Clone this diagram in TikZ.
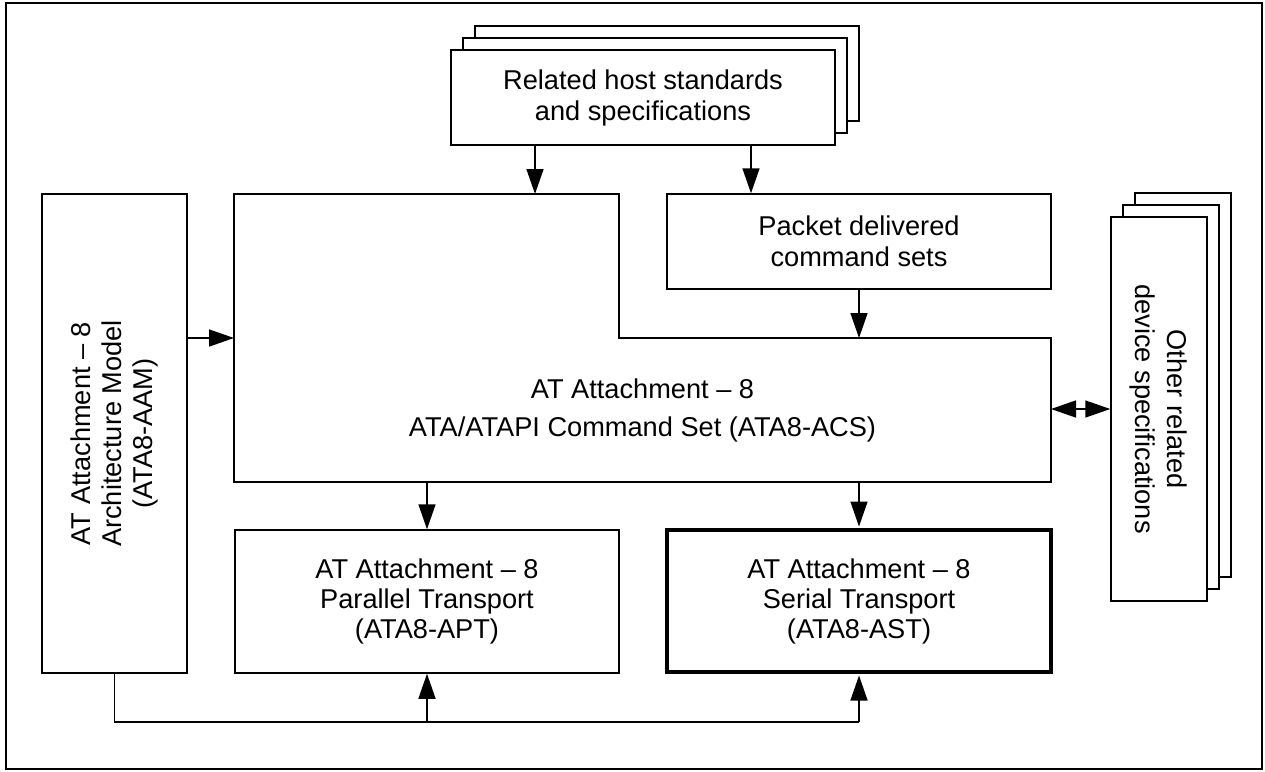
\documentclass[tikz,border=0pt]{standalone}
\usepackage{fontspec}
\setmainfont{Liberation Sans}
\usetikzlibrary{arrows.meta,calc}
\newcommand{\txtfont}{\fontsize{27.2}{31}\selectfont}
\begin{document}
\begin{tikzpicture}[x=1pt,y=-1pt,
  box/.style={draw, line width=1.5pt, fill=white, inner sep=0pt, align=center, font=\txtfont},
  plain/.style={inner sep=0pt, align=center, font=\txtfont},
  arr/.style={-{Triangle[length=25pt,width=17pt]}, line width=1.5pt},
  dblarr/.style={{Triangle[length=25pt,width=17pt]}-{Triangle[length=25pt,width=17pt]}, line width=1.5pt},
  line/.style={line width=1.5pt}]
\useasboundingbox (0,0) rectangle (1265,771);
\draw[line width=2pt] (6,3) rectangle (1262,769);

% related host standards (stacked)
\node[box, minimum width=384pt, minimum height=95pt] (relB) at (667,73.5) {};
\node[box, minimum width=384pt, minimum height=95pt] (relM) at (655,85.5) {};
\node[box, minimum width=384pt, minimum height=95pt] (rel) at (643,97.5) {Related host standards\\and specifications};

% packet delivered
\node[box, minimum width=384pt, minimum height=95pt] (pkt) at (859,241.5) {Packet delivered\\command sets};

% ACS outline
\coordinate (acsNW) at (234,194);
\coordinate (acsStep) at (619,338);
\coordinate (acsSE) at (1051,482);
\coordinate (acsSW) at (234,482);
\draw[line] (acsNW) -- (acsNW -| acsStep) -- (acsStep) -- (acsStep -| acsSE) -- (acsSE) -- (acsSW) -- cycle;
\node[plain, font=\fontsize{27.2}{38}\selectfont] (acs) at (642.5,410) {AT Attachment – 8\\ATA/ATAPI Command Set (ATA8-ACS)};

% AAM
\node[box, minimum width=145pt, minimum height=479pt] (aam) at (114.5,433.5) {};
\node[plain, rotate=90] (aamtxt) at (aam.center) {AT Attachment – 8\\Architecture Model\\(ATA8-AAM)};

% APT, AST
\node[box, minimum width=384pt, minimum height=143pt, font=\fontsize{27.2}{30}\selectfont] (apt) at (427,601.5) {AT Attachment – 8\\Parallel Transport\\(ATA8-APT)};
\node[box, line width=4pt, minimum width=384pt, minimum height=142pt, font=\fontsize{27.2}{30}\selectfont] (ast) at (859,601) {AT Attachment – 8\\Serial Transport\\(ATA8-AST)};

% other related device specs (stacked)
\node[box, minimum width=96pt, minimum height=384pt] (othB) at (1183,385) {};
\node[box, minimum width=96pt, minimum height=384pt] (othM) at (1171,397) {};
\node[box, minimum width=96pt, minimum height=384pt] (oth) at (1159,409) {};
\node[plain, rotate=-90, font=\fontsize{27.2}{32}\selectfont] (othtxt) at (oth.center) {Other related\\device specifications};

% connectors
\draw[arr] ([xshift=-108pt]rel.south) -- ([xshift=-108pt]rel.south |- acsNW);
\draw[arr] ([xshift=-108pt]pkt.north |- rel.south) -- ([xshift=-108pt]pkt.north);
\draw[arr] (pkt.south) -- (pkt.south |- acsStep);
\draw[arr] (aam.east |- acsStep) -- (acsNW |- acsStep);
\draw[arr] (apt.north |- acsSW) -- (apt.north);
\draw[arr, shorten >=1.5pt] (ast.north |- acsSW) -- (ast.north);
\coordinate (bus) at (0,722);
\draw[line] (aam.south) -- (aam.south |- bus) -- (ast.south |- bus);
\draw[arr] (apt.south |- bus) -- (apt.south);
\draw[arr, shorten >=1.5pt] (ast.south |- bus) -- (ast.south);
\draw[dblarr] (acsSE |- oth.west) -- (oth.west);
\end{tikzpicture}
\end{document}
